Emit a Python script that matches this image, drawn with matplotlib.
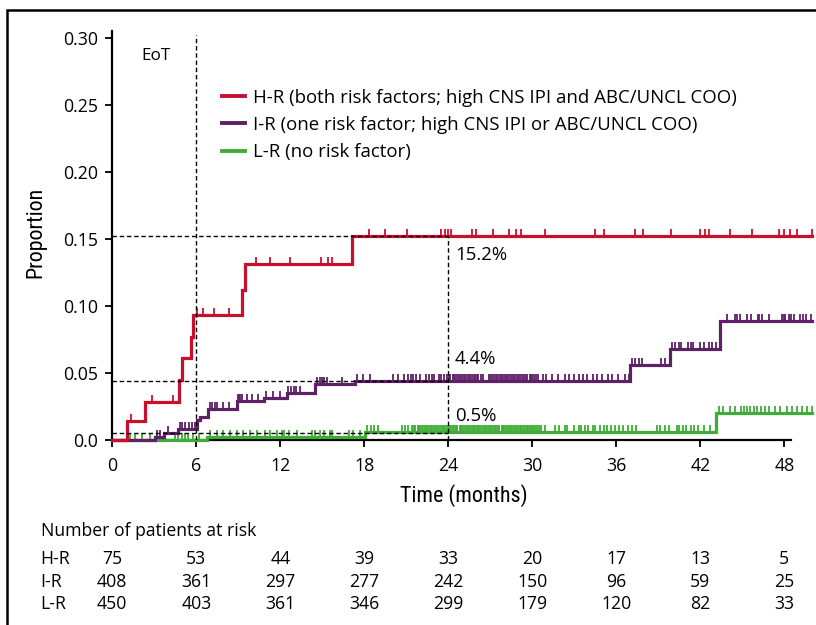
import matplotlib
matplotlib.use("Agg")
import matplotlib.pyplot as plt
import matplotlib.transforms as mtransforms
from matplotlib import font_manager as fm
from matplotlib.font_manager import FontProperties
from matplotlib.lines import Line2D
import numpy as np

plt.rcParams['font.family'] = ['Open Sans', 'DejaVu Sans']


def _pick_condensed():
    prefs = ['Liberation Sans Narrow', 'Roboto Condensed', 'Open Sans Condensed',
             'Noto Sans', 'Open Sans', 'DejaVu Sans', 'Roboto', 'Lato', 'Inter',
             'Liberation Sans']
    cands = []
    for f in fm.fontManager.ttflist:
        st = f.stretch
        if isinstance(st, str):
            cond = ('condensed' in st) or ('narrow' in st)
        else:
            cond = st < 500
        if 'Narrow' in f.name or 'Condensed' in f.name:
            cond = True
        if not cond or f.style != 'normal':
            continue
        w = f.weight if isinstance(f.weight, int) else {'normal': 400, 'regular': 400,
                                                        'book': 400}.get(f.weight, 700)
        if w != 400:
            continue
        rank = prefs.index(f.name) if f.name in prefs else len(prefs)
        cands.append((rank, f.fname))
    if cands:
        cands.sort()
        return FontProperties(fname=cands[0][1], size=15.8), True
    return FontProperties(family=['Roboto', 'DejaVu Sans'], size=14.0), False


cond_fp, _is_cond = _pick_condensed()

# ---------------- data ----------------
series_names = ["H-R", "I-R", "L-R"]
legend_labels = [
    "H-R (both risk factors; high CNS IPI and ABC/UNCL COO)",
    "I-R (one risk factor; high CNS IPI or ABC/UNCL COO)",
    "L-R (no risk factor)",
]
colors = ["#C8102E", "#5E2167", "#3EAD35"]
end_time = 50.0

hr_times = [0, 1.02, 2.34, 4.76, 5.0, 5.62, 5.79, 9.24, 9.48, 17.14]
hr_vals = [0, 0.0144, 0.0285, 0.0446, 0.061, 0.077, 0.093, 0.112, 0.1316, 0.152]
hr_censor = [1.3, 2.86, 4.36, 6.03, 6.5, 7.29, 8.36, 10.24, 11.26, 12.69, 14.9, 15.39,
             15.71, 18.36, 19.48, 21.08, 23.46, 23.76, 24.0, 24.2, 25.7, 26.0, 27.2,
             28.3, 28.8, 29.2, 30.9, 34.5, 35.1, 37.3, 37.9, 39.9, 42.0, 42.3, 42.6,
             44.1, 45.7, 47.6, 48.0, 48.4, 48.9, 50.0]

ir_times = [0, 3.05, 3.7, 4.67, 6.03, 6.26, 6.86, 8.9, 10.8, 12.45, 14.5, 17.3, 37.0, 39.8, 43.4]
ir_vals = [0, 0.002, 0.005, 0.008, 0.015, 0.0174, 0.023, 0.029, 0.0315, 0.035, 0.0417,
           0.0441, 0.056, 0.068, 0.089]
ir_censor = [3.17, 3.4, 4.0, 4.8, 5.0, 5.2, 5.45, 5.7, 5.9,
             7.0, 7.15, 7.3, 7.5, 7.9, 8.3,
             8.95, 9.05, 9.15, 9.25, 9.6, 10.0, 10.4,
             11.0, 11.5, 12.0,
             12.55, 12.75, 12.95, 13.15, 13.4,
             14.6, 14.8, 15.0, 15.15, 15.3, 16.4,
             17.5, 17.9, 18.4, 20.05, 20.4, 20.8, 21.1, 21.3, 21.5, 21.7, 22.0, 22.4,
             22.6, 22.8, 23.0, 23.3, 23.5, 23.7, 23.9,
             24.05, 24.15, 24.3, 24.4, 24.5, 24.6, 24.75, 24.85, 25.0, 25.1, 25.2, 25.35,
             25.45, 25.55, 25.7, 25.8, 25.9, 26.05, 26.15, 26.3, 26.45, 26.9, 27.0, 27.15,
             27.25, 27.4, 27.5, 27.6, 27.75, 27.85, 28.0, 28.1, 28.2, 28.35, 28.45, 28.6,
             28.7, 28.8, 28.95, 29.05, 29.2, 29.3, 29.4, 29.55, 29.65, 29.8, 29.9, 30.0,
             30.15, 30.25, 30.4,
             30.75, 31.0, 31.4, 31.8, 32.3, 32.6, 32.95, 33.3, 33.6, 33.9, 34.3, 34.6,
             35.0, 35.4, 35.7, 36.1, 36.6, 36.9,
             37.1, 37.3, 37.6, 37.8, 39.2, 39.45,
             39.95, 40.2, 40.5, 40.65, 41.1, 41.3, 41.45, 42.0, 42.25, 42.6, 42.8, 43.15,
             43.9, 44.5, 44.65, 44.85, 45.3, 45.65, 46.1, 46.2, 46.4, 46.9, 47.85, 47.95,
             48.05, 48.3, 48.45, 48.7, 49.15, 49.3, 49.55, 49.9]

lr_times = [0, 6.74, 18.05, 43.1]
lr_vals = [0, 0.002, 0.0063, 0.0199]
lr_censor = [1.26, 1.62, 2.12, 2.69, 4.48, 4.71, 4.96, 5.19, 5.43, 5.79, 6.2,
             6.98, 7.46, 7.93, 8.41, 8.89, 9.36, 9.84, 10.31, 10.9, 11.26, 11.74, 12.1,
             12.24, 12.6, 13.2, 14.24, 14.5, 14.8, 15.1, 15.55, 15.67, 16.9, 17.2, 17.7,
             18.2, 18.45, 18.7, 19.0, 20.7, 20.9, 21.1, 21.4,
             21.55, 21.65, 21.8, 21.9, 22.0, 22.15, 22.25, 22.4, 22.5, 22.6, 22.75, 22.85,
             23.0, 23.1, 23.2, 23.35, 23.45, 23.6, 23.7, 23.8, 23.95, 24.05, 24.2, 24.3,
             24.4, 24.55, 24.65, 24.8, 24.9, 25.0, 25.15, 25.25, 25.4, 25.5, 25.6, 25.75,
             25.85, 26.0, 26.1, 26.2, 26.35, 26.45, 26.6, 26.7, 26.8, 26.95, 27.05, 27.2,
             27.3, 27.4, 27.55, 27.65, 27.8, 27.9, 28.0, 28.15, 28.25, 28.4, 28.5, 28.6,
             28.75, 28.85, 29.0, 29.1, 29.2, 29.35, 29.45, 29.6, 29.7, 29.8, 29.95, 30.05,
             30.2, 30.3, 30.45, 30.6,
             30.9, 31.6, 31.9, 32.3, 32.5, 33.0, 33.3, 33.5, 33.75, 34.0, 34.3, 34.5,
             34.8, 35.1, 35.35, 35.6, 35.9, 36.2, 36.5, 36.8, 37.1, 37.4,
             38.9, 39.15, 39.5, 39.75, 40.3, 40.5, 40.75, 41.0, 41.3, 41.55, 41.85, 42.25, 42.7,
             43.3, 43.65, 44.1, 44.45, 44.9, 45.1, 45.35, 45.55, 45.8, 46.05, 46.3, 46.6,
             46.9, 47.3, 47.7, 48.2, 48.55, 48.9, 49.25, 49.6, 49.95]

# landmark at 24 months
landmark_time = 24
landmark_vals = [0.152, 0.044, 0.005]
landmark_labels = ["15.2%", "4.4%", "0.5%"]
landmark_label_y = [0.1344, 0.0568, 0.0144]
eot_time = 6

# number at risk
risk_times = [0, 6, 12, 18, 24, 30, 36, 42, 48]
risk_hr = [75, 53, 44, 39, 33, 20, 17, 13, 5]
risk_ir = [408, 361, 297, 277, 242, 150, 96, 59, 25]
risk_lr = [450, 403, 361, 346, 299, 179, 120, 82, 33]

xticks = [0, 6, 12, 18, 24, 30, 36, 42, 48]
yticks = [0.0, 0.05, 0.10, 0.15, 0.20, 0.25, 0.30]
ytick_labels = ["0.0", "0.05", "0.10", "0.15", "0.20", "0.25", "0.30"]

# ---------------- figure ----------------
W, H = 816, 625
FS_TICK = 12.8
FS_LEG = 13.4
FS_TAB = 12.7
fig = plt.figure(figsize=(W / 100, H / 100), dpi=100)
px_per_month = 14.0
px_per_unit = 1339.0
x0_px, y0_px = 112.3, 440.0
xmax, ymax = 50.2, 0.31
ax = fig.add_axes([x0_px / W, (H - y0_px) / H, xmax * px_per_month / W, ymax * px_per_unit / H])
ax.set_xlim(0, xmax)
ax.set_ylim(0, ymax)
ax.patch.set_visible(False)

for s in ["top", "right"]:
    ax.spines[s].set_visible(False)
for s in ["left", "bottom"]:
    ax.spines[s].set_linewidth(1.6)
ax.spines["bottom"].set_bounds(0, 48.5)
ax.spines["left"].set_bounds(0, 0.3055)

ax.set_xticks(xticks)
ax.set_xticklabels([str(t) for t in xticks])
ax.set_yticks(yticks)
ax.set_yticklabels(ytick_labels)
ax.tick_params(axis="both", direction="out", length=5, width=1.3, labelsize=FS_TICK, colors="black")
ax.tick_params(axis="x", pad=7.0)
ax.tick_params(axis="y", pad=5.0)

ax.set_xlabel("Time (months)", fontproperties=cond_fp, labelpad=7)
ax.set_ylabel("Proportion", fontproperties=cond_fp, labelpad=12)

all_times = [hr_times, ir_times, lr_times]
all_vals = [hr_vals, ir_vals, lr_vals]
all_censor = [hr_censor, ir_censor, lr_censor]

# draw L-R first, then I-R, then H-R
for i in [2, 1, 0]:
    t = list(all_times[i]) + [end_time]
    v = list(all_vals[i]) + [all_vals[i][-1]]
    ax.plot(t, v, drawstyle="steps-post", color=colors[i], lw=2.3,
            solid_joinstyle="miter", zorder=3 + (2 - i), clip_on=False)
    ct = np.array(all_censor[i])
    idx = np.searchsorted(np.array(all_times[i]), ct, side="right") - 1
    cv = np.array(all_vals[i])[idx]
    ax.plot(ct, cv, linestyle="none", marker=2, markersize=5.2, mew=1.3,
            color=colors[i], zorder=3 + (2 - i), clip_on=False)

# dashed reference lines
dash_kw = dict(color="black", lw=1.0, dashes=(3.2, 2.0), zorder=10)
for val in landmark_vals:
    ax.plot([0, landmark_time], [val, val], **dash_kw)
ax.plot([landmark_time, landmark_time], [0, landmark_vals[0]], **dash_kw)
ax.plot([eot_time, eot_time], [0, 0.3025], **dash_kw)

for lab, yv in zip(landmark_labels, landmark_label_y):
    ax.text(landmark_time + 0.48, yv, lab, fontsize=FS_LEG, ha="left", va="baseline")
ax.text(2.1, 0.2838, "EoT", fontsize=FS_TICK - 0.5, ha="left", va="baseline")

# legend (manual)
leg_line_y = [95.7, 123.3, 150.7]
leg_text_base = [103.3, 130.0, 156.7]
for i in range(3):
    fig.add_artist(Line2D([222 / W, 245 / W], [1 - leg_line_y[i] / H] * 2,
                          color=colors[i], lw=2.8, transform=fig.transFigure))
    fig.text(253 / W, 1 - leg_text_base[i] / H, legend_labels[i], fontsize=FS_LEG,
             ha="left", va="baseline")

# risk table
trans = mtransforms.blended_transform_factory(ax.transData, fig.transFigure)
fig.text(40.7 / W, 1 - 536 / H, "Number of patients at risk", fontsize=FS_TAB,
         ha="left", va="baseline")
risk_rows = [risk_hr, risk_ir, risk_lr]
row_base = [564, 586.7, 609.3]
for name, row, yb in zip(series_names, risk_rows, row_base):
    fig.text(40.7 / W, 1 - yb / H, name, fontsize=FS_TAB, ha="left", va="baseline")
    for t, n in zip(risk_times, row):
        ax.text(t, 1 - yb / H, str(n), transform=trans, fontsize=FS_TAB,
                ha="center", va="baseline", clip_on=False)

# outer frame (top and left)
fig.add_artist(Line2D([6.5 / W, 6.5 / W, 1.0], [0.0, 1 - 10 / H, 1 - 10 / H],
                      color="black", lw=1.8, transform=fig.transFigure,
                      solid_joinstyle="miter"))

fig.savefig("out.png", dpi=100)
